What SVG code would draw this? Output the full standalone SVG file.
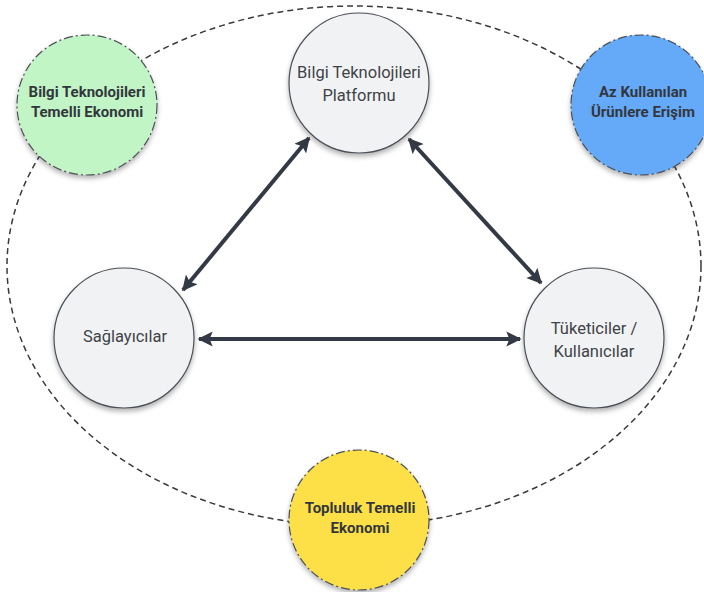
<svg xmlns="http://www.w3.org/2000/svg" width="704" height="592" viewBox="0 0 704 592">
<defs>
<style>
.bg{fill:#ffffff}
.ring{fill:none;stroke:#3a3a3a;stroke-width:1.5;stroke-dasharray:6 4}
.core{fill:#f1f2f4;stroke:#4b4f56;stroke-width:1.2}
.outer{stroke:#4b4f56;stroke-width:1.2;stroke-dasharray:9 3 2 3}
.t{font-family:Roboto,"Liberation Sans",sans-serif;font-size:16.5px;fill:#3f4347;text-anchor:middle}
.tb{font-family:Roboto,"Liberation Sans",sans-serif;font-size:15px;font-weight:bold;fill:#33373d;text-anchor:middle}
.conn{stroke:#343a45;stroke-width:4;fill:none;marker-start:url(#ah);marker-end:url(#ah)}
</style>
<marker id="ah" viewBox="0 0 10 10" refX="9" refY="5" markerWidth="4.2" markerHeight="3.8" orient="auto-start-reverse" markerUnits="strokeWidth">
<path d="M0,0 L10,5 L0,10 L2,5 z" fill="#343a45"/>
</marker>
<filter id="sh" x="-20%" y="-20%" width="140%" height="150%">
<feDropShadow dx="0" dy="3" stdDeviation="2.5" flood-color="#000" flood-opacity="0.3"/>
</filter>
</defs>
<rect class="bg" x="0" y="0" width="704" height="592"/>
<ellipse class="ring" cx="354" cy="266" rx="347" ry="260"/>
<g id="connectors">
<line class="conn" x1="309" y1="138" x2="183" y2="290"/>
<line class="conn" x1="409" y1="139" x2="541" y2="283"/>
<line class="conn" x1="199" y1="339" x2="520" y2="339"/>
</g>
<g id="n-platform">
<circle class="core" cx="359" cy="83" r="70" filter="url(#sh)"/>
<text class="t" x="359" y="78">Bilgi Teknolojileri</text>
<text class="t" x="359" y="101">Platformu</text>
</g>
<g id="n-saglayicilar">
<circle class="core" cx="124" cy="338" r="70" filter="url(#sh)"/>
<text class="t" x="125" y="342">Sağlayıcılar</text>
</g>
<g id="n-tuketiciler">
<circle class="core" cx="594" cy="338" r="70" filter="url(#sh)"/>
<text class="t" x="594" y="334">Tüketiciler /</text>
<text class="t" x="594" y="357">Kullanıcılar</text>
</g>
<g id="n-bilgi-ekonomi">
<circle class="outer" cx="87" cy="105" r="70" fill="#c2f5c5" filter="url(#sh)"/>
<text class="tb" x="87" y="97">Bilgi Teknolojileri</text>
<text class="tb" x="87" y="117">Temelli Ekonomi</text>
</g>
<g id="n-az-kullanilan">
<circle class="outer" cx="641" cy="105" r="70" fill="#65aaf9" filter="url(#sh)"/>
<text class="tb" x="643" y="97">Az Kullanılan</text>
<text class="tb" x="643" y="117">Ürünlere Erişim</text>
</g>
<g id="n-topluluk">
<circle class="outer" cx="359" cy="520" r="70" fill="#fde046" filter="url(#sh)"/>
<text class="tb" x="360" y="513">Topluluk Temelli</text>
<text class="tb" x="360" y="533">Ekonomi</text>
</g>
</svg>
